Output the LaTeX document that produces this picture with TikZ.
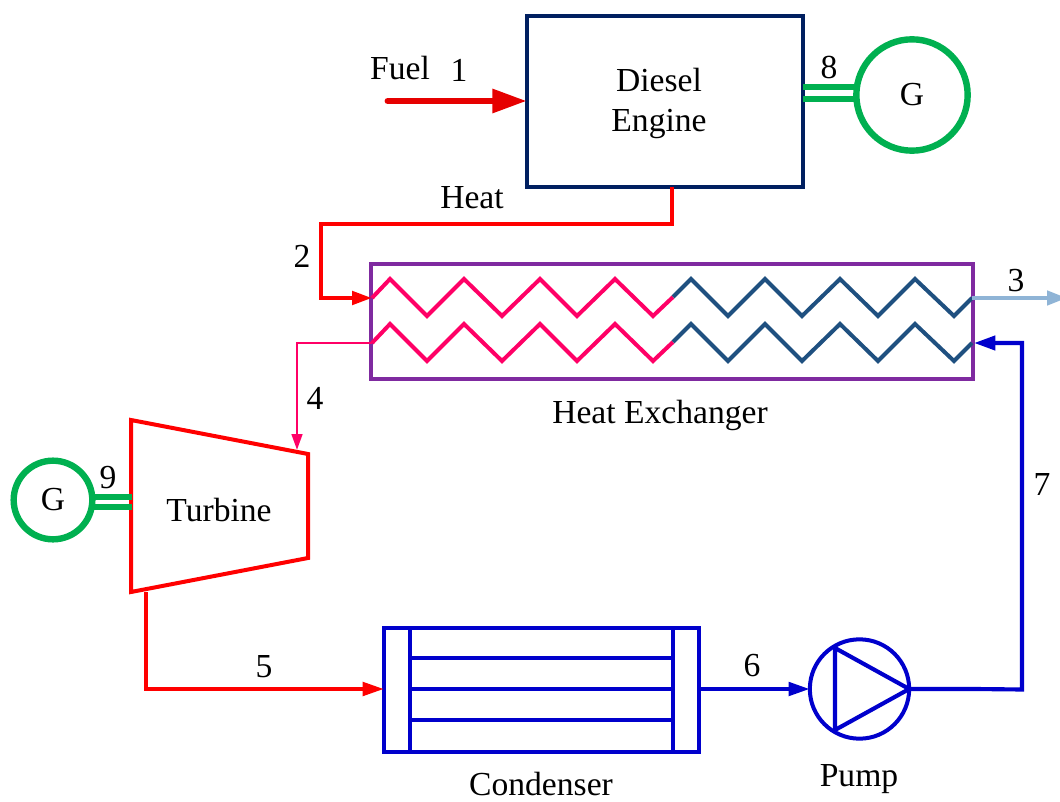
\documentclass[tikz,border=0pt]{standalone}
\usepackage{fontspec}
\setmainfont{Liberation Serif}
\usetikzlibrary{arrows.meta}
\definecolor{navyc}{HTML}{002060}
\definecolor{greenc}{HTML}{00B050}
\definecolor{redc}{HTML}{FF0000}
\definecolor{fuelc}{HTML}{E60000}
\definecolor{purplec}{HTML}{7F2AA0}
\definecolor{pinkc}{HTML}{FF0066}
\definecolor{tealc}{HTML}{1F5080}
\definecolor{bluec}{HTML}{0000CC}
\definecolor{lightc}{HTML}{8FB4D6}
\tikzset{
  lbl/.style={inner sep=0pt,font=\fontsize{25.2}{30}\selectfont,align=center},
  boxshape/.style={rectangle,draw,inner sep=0pt,outer sep=0pt},
  gen/.style={circle,draw=greenc,line width=4.8pt,inner sep=0pt,outer sep=0pt,font=\fontsize{25.2}{30}\selectfont},
  shaft/.style={draw=greenc,line width=4pt},
  redline/.style={draw=redc,line width=3pt},
  blueline/.style={draw=bluec,line width=3.1pt},
  zigpink/.style={draw=pinkc,line width=3pt,line join=miter},
  zigteal/.style={draw=tealc,line width=3pt,line join=miter},
}
\begin{document}
\begin{tikzpicture}[x=0.75pt,y=-0.75pt]
\useasboundingbox (0,0) rectangle (1060,802);
% components
\node[boxshape,draw=navyc,line width=3pt,minimum width=207pt,minimum height=128.25pt] (engine) at (665,101.5) {};
\node[gen,minimum size=83.5pt] (g1) at (912,95) {G};
\node[gen,minimum size=59pt] (g2) at (53,500) {G};
\node[boxshape,draw=purplec,line width=3pt,minimum width=451.5pt,minimum height=86.25pt] (hx) at (672,321.5) {};
\node[boxshape,draw=bluec,line width=3.1pt,minimum width=236.25pt,minimum height=93pt] (cond) at (541.5,690) {};
\node[circle,draw=bluec,line width=3pt,inner sep=0pt,outer sep=0pt,minimum size=74.5pt] (pump) at (859.5,689) {};
% engine shaft
\coordinate (s1a) at (803,87); \coordinate (s1b) at (803,99);
\draw[shaft] (s1a) -- (s1a -| g1.west);
\draw[shaft] (s1b) -- (s1b -| g1.west);
% turbine
\coordinate (t1) at (131,420); \coordinate (t2) at (308,454);
\coordinate (t3) at (308,558); \coordinate (t4) at (131,592);
\draw[redline,line join=miter] (t1) -- (t2) -- (t3) -- (t4) -- cycle;
\coordinate (s2a) at (132,497); \coordinate (s2b) at (132,507);
\draw[shaft] (g2.east |- s2a) -- (s2a);
\draw[shaft] (g2.east |- s2b) -- (s2b);
% zigzags
\draw[zigpink] (372,298) -- (390,279) -- (427,316) -- (464,279) -- (502,316) -- (540,279) -- (577,316) -- (615,279) -- (653,316) -- (673,297);
\draw[zigteal] (673,297) -- (691,279) -- (728,316) -- (765,279) -- (802,316) -- (840,279) -- (878,316) -- (915,279) -- (954,316) -- (972,298);
\draw[zigpink] (372,343) -- (390,324) -- (427,361) -- (464,324) -- (502,361) -- (540,324) -- (577,361) -- (615,324) -- (653,361) -- (673,342);
\draw[zigteal] (673,342) -- (691,324) -- (728,361) -- (765,324) -- (802,361) -- (840,324) -- (878,361) -- (915,324) -- (954,361) -- (972,343);
% condenser interior
\coordinate (cl) at (410,628); \coordinate (cr) at (673,628);
\draw[blueline] (cl) -- (cl |- cond.south);
\draw[blueline] (cr) -- (cr |- cond.south);
\foreach \yy in {658,689,720} \draw[blueline] (410,\yy) -- (673,\yy);
% pump triangle
\coordinate (pa) at (835,648); \coordinate (pb) at (835,730);
\draw[blueline,line join=round] (pa) -- (pb) -- (pump.east) -- cycle;
% connectors
\coordinate (f0) at (388,101);
\draw[draw=fuelc,line width=5.2pt,line cap=round,-{Triangle[length=26pt,width=17pt,fill=fuelc]}] (f0) -- (f0 -| engine.west);
\coordinate (h1) at (672,224); \coordinate (h2) at (321,224); \coordinate (h3) at (321,298); \coordinate (h4) at (372,298);
\draw[redline,-{Triangle[length=15pt,width=10pt]},line join=miter] (engine.south -| h1) -- (h1) -- (h2) -- (h3) -- (h4);
\coordinate (o3) at (972,298); \coordinate (e3) at (1067,298);
\draw[draw=lightc,line width=3.2pt,-{Triangle[length=15pt,width=10.5pt,fill=lightc]}] (o3) -- (e3);
\coordinate (p4a) at (372,343); \coordinate (p4b) at (297,343); \coordinate (p4c) at (297,450);
\draw[draw=pinkc,line width=2pt,-{Triangle[length=12pt,width=8pt]},line join=miter] (p4a) -- (p4b) -- (p4c);
\coordinate (r1) at (146,592); \coordinate (r2) at (146,689);
\draw[redline,line join=miter,-{Triangle[length=16pt,width=10pt]}] (r1) -- (r2) -- (cond.west |- r2);
\draw[blueline,-{Triangle[length=16pt,width=10pt]}] (cond.east |- pump.west) -- (pump.west);
\coordinate (b0) at (975,689); \coordinate (b1) at (1022,689.5); \coordinate (b2) at (1022,343); \coordinate (b3) at (974,343);
\draw[blueline,line join=miter,-{Triangle[length=16pt,width=10.5pt]}] (pump.east) -- (b0) -- (b1) -- (b2) -- (b3);
% labels
\node[lbl] (tfuel) at (400,68) {Fuel};
\node[lbl] (t1l) at (459,70) {1};
\node[lbl] (tde) at (659,103) {Diesel\\Engine};
\node[lbl] (t8) at (829,67) {8};
\node[lbl] (theat) at (472,198) {Heat};
\node[lbl] (t2l) at (302,256) {2};
\node[lbl] (t3l) at (1016,281) {3};
\node[lbl] (t4l) at (315,398) {4};
\node[lbl] (thx) at (660,415) {Heat Exchanger};
\node[lbl] (t7l) at (1042,484) {7};
\node[lbl] (t9l) at (108,478) {9};
\node[lbl] (tturb) at (219,510) {Turbine};
\node[lbl] (t5l) at (264,667) {5};
\node[lbl] (t6l) at (752,666) {6};
\node[lbl] (tcond) at (541,784) {Condenser};
\node[lbl] (tpump) at (859,779) {Pump};
\end{tikzpicture}
\end{document}
